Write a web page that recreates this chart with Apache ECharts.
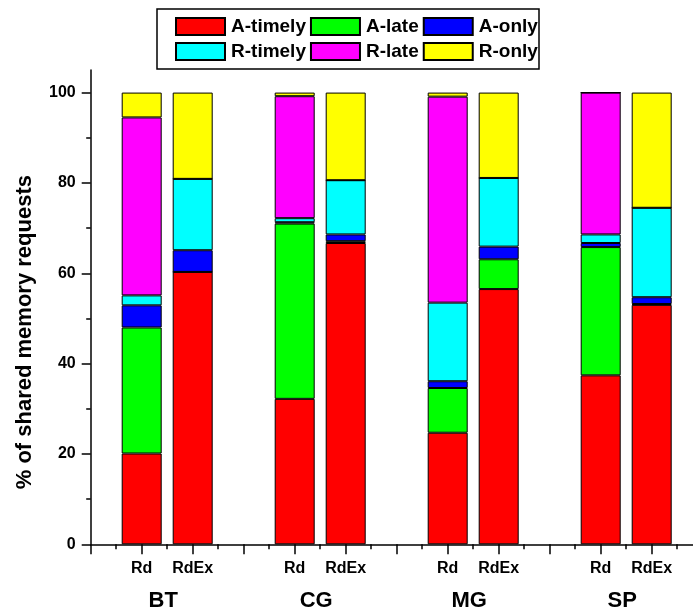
<!DOCTYPE html>
<html>
<head>
<meta charset="utf-8">
<script src="https://cdn.jsdelivr.net/npm/echarts@6/dist/echarts.min.js"></script>
<style>
html,body{margin:0;padding:0;background:#fff;}
#chart{width:693px;height:614px;}
</style>
</head>
<body>
<div id="chart"></div>
<script>
const groups = ['BT', 'CG', 'MG', 'SP'];
const variants = ['Rd', 'RdEx'];
const seriesNames = ['A-timely', 'A-late', 'A-only', 'R-timely', 'R-late', 'R-only'];
// order: BT-Rd, BT-RdEx, CG-Rd, CG-RdEx, MG-Rd, MG-RdEx, SP-Rd, SP-RdEx
const aTimely = [20.1, 60.3, 32.2, 66.7, 24.7, 56.5, 37.4, 53.0];
const aLate   = [27.9, 0,    38.8, 0.4,  9.9,  6.6,  28.4, 0.2];
const aOnly   = [4.9,  4.8,  0.3,  1.5,  1.5,  2.8,  0.9,  1.5];
const rTimely = [2.2,  15.8, 0.9,  12.0, 17.4, 15.2, 1.9,  19.8];
const rLate   = [39.4, 0,    27.0, 0,    45.6, 0,    31.4, 0];
const rOnly   = [5.5,  19.1, 0.8,  19.4, 0.9,  18.9, 0,    25.5];
const yTickValues = [0, 20, 40, 60, 80, 100];
const yMinorValues = [10, 30, 50, 70, 90];

const seriesValues = [aTimely, aLate, aOnly, rTimely, rLate, rOnly];
const colors = ['#FF0000', '#00FF00', '#0000FF', '#00FFFF', '#FF00FF', '#FFFF00'];

// category slots: gap, Rd, RdEx, gap, Rd, RdEx, ... , gap
const cats = [''];
groups.forEach(() => { variants.forEach(v => cats.push(v)); cats.push(''); });
function expand(vals) {
  const out = ['-'];
  groups.forEach((g, gi) => {
    variants.forEach((v, vi) => out.push(vals[gi * variants.length + vi]));
    out.push('-');
  });
  return out;
}
const groupLabelAt = {};
groups.forEach((g, gi) => { groupLabelAt[(gi * 3 + 1.5).toFixed(1)] = g; });

const FONT = 'Liberation Sans, Arial, Helvetica, sans-serif';
const chart = echarts.init(document.getElementById('chart'), null, {renderer: 'canvas'});
const legendCommon = {
  orient: 'horizontal', left: 175, padding: 0, itemGap: 4,
  itemWidth: 49, itemHeight: 17, icon: 'rect',
  textStyle: {fontFamily: FONT, fontSize: 19, fontWeight: 'bold', color: '#000', padding: [0, 0, 0, 1]},
  selectedMode: false
};
chart.setOption({
  animation: false,
  backgroundColor: '#fff',
  legend: [
    Object.assign({}, legendCommon, {top: 17, data: seriesNames.slice(0, 3)}),
    Object.assign({}, legendCommon, {top: 42, data: seriesNames.slice(3)})
  ],
  graphic: [{
    type: 'rect', shape: {x: 157, y: 9, width: 382, height: 60},
    style: {fill: 'none', stroke: '#000', lineWidth: 1.5}, silent: true
  }],
  grid: {left: 90.7, width: 612, top: 70, bottom: 69.7, containLabel: false, outerBoundsMode: 'none'},
  xAxis: [{
    type: 'category', data: cats, boundaryGap: false,
    axisLine: {lineStyle: {color: '#000', width: 1.5}},
    axisTick: {length: 10, interval: 0, lineStyle: {color: '#000', width: 1.5}},
    axisLabel: {interval: 0, margin: 16, fontFamily: FONT, fontSize: 16, fontWeight: 'bold', color: '#000'},
    splitLine: {show: false}
  }, {
    type: 'value', position: 'bottom', min: 0, max: 12, interval: 0.5,
    axisLine: {show: false},
    axisTick: {show: true, length: 5, lineStyle: {color: '#000', width: 1.5}},
    axisLabel: {
      margin: 46, fontFamily: FONT, fontSize: 22, fontWeight: 'bold', color: '#000',
      padding: [0, 8, 0, 0],
      formatter: v => groupLabelAt[Number(v).toFixed(1)] || ''
    },
    splitLine: {show: false}
  }],
  yAxis: [{
    type: 'value', min: 0, max: 105,
    name: '% of shared memory requests', nameLocation: 'middle', nameRotate: 90, nameGap: 55,
    nameTextStyle: {fontFamily: FONT, fontSize: 22, fontWeight: 'bold', color: '#000', padding: [0, 50, 0, 0]},
    axisLine: {show: true, lineStyle: {color: '#000', width: 1.5}},
    axisTick: {show: true, length: 9, customValues: yTickValues, lineStyle: {color: '#000', width: 1.5}},
    axisLabel: {customValues: yTickValues, margin: 15, fontFamily: FONT, fontSize: 16, fontWeight: 'bold', color: '#000'},
    splitLine: {show: false}
  }, {
    type: 'value', min: 0, max: 105, position: 'left',
    axisLine: {show: false},
    axisTick: {show: true, length: 4.5, customValues: yMinorValues, lineStyle: {color: '#000', width: 1.5}},
    axisLabel: {show: false},
    splitLine: {show: false}
  }],
  series: seriesNames.map((name, i) => ({
    name: name, type: 'bar', stack: 'total', xAxisIndex: 0, yAxisIndex: 0,
    barWidth: 40,
    itemStyle: {color: colors[i], borderColor: '#000', borderWidth: 1},
    data: expand(seriesValues[i])
  }))
});
</script>
</body>
</html>
